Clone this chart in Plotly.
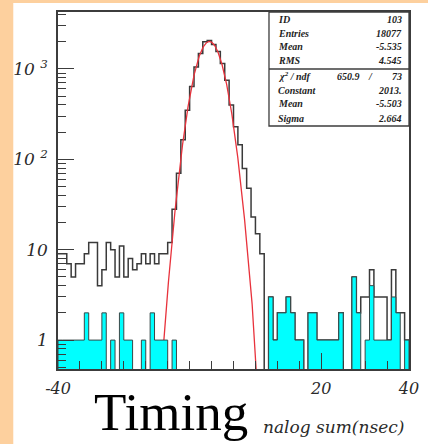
import numpy as np
import plotly.graph_objects as go

# ---------------- data ----------------
bin_lo, bin_hi, n_bins = -40, 40, 80
# total timing histogram (outline), 1 ns bins from -40 to 40
counts_total = [
    9, 9, 7, 5, 7, 7, 9, 12, 12, 4,
    6, 12, 10, 5, 11, 5, 8, 6, 7, 9,
    7, 9, 7, 9, 9, 12, 28, 70, 165, 350,
    640, 1050, 1480, 2000, 2060, 1860, 1560, 1150, 750, 400,
    230, 145, 79, 48, 23, 15, 9, 0, 3, 1,
    2, 2, 3, 2, 1, 1, 0, 2, 2, 1,
    1, 1, 1, 1, 2, 0, 0, 5, 2, 3,
    3, 6, 3, 3, 3, 1, 6, 2, 2, 1,
]
# selected sub-sample (cyan filled histogram)
counts_cyan = [
    1, 1, 1, 1, 1, 1, 2, 1, 1, 1,
    2, 0, 1, 0, 2, 1, 1, 0, 0, 1,
    0, 2, 1, 1, 1, 0, 1, 0, 0, 0,
    0, 0, 0, 0, 0, 0, 0, 0, 0, 0,
    0, 0, 0, 0, 0, 0, 0, 0, 3, 1,
    2, 2, 3, 2, 1, 1, 0, 2, 2, 1,
    1, 1, 1, 1, 2, 0, 0, 5, 2, 0,
    1, 4, 1, 1, 1, 1, 3, 2, 0, 1,
]
# gaussian fit parameters (from stats box)
fit_constant = 2013.0
fit_mean = -5.503
fit_sigma = 2.664

stats_top = [("ID", "103"), ("Entries", "18077"), ("Mean", "-5.535"), ("RMS", "4.545")]
chi2_val, ndf_val = "650.9", "73"
stats_fit = [("Constant", "2013."), ("Mean", "-5.503"), ("Sigma", "2.664")]

x_tickvals = [-40, -20, 0, 20, 40]
# -20 and 0 are hidden behind the "Timing" label in the reference
x_ticktext = ["-40", "", "", "20", "40"]
y_tickvals = [1, 10, 100, 1000]
y_ticktext = ["1", "10", "10 <sup>2</sup>", "10 <sup>3</sup>"]

# ---------------- layout geometry ----------------
W, H = 428, 444
L, R, T, B = 58, 9, 12, 75
PW, PH = W - L - R, H - T - B
def pxx(px):
    return (px - L) / PW
def pyy(py):
    return (H - B - py) / PH

FLOOR = 0.05  # below visible range, for empty bins on log axis
edges = np.linspace(bin_lo, bin_hi, n_bins + 1)

fig = go.Figure()

# black outline histogram
yb = [max(v, FLOOR) for v in counts_total]
fig.add_trace(go.Scatter(
    x=edges, y=yb + [yb[-1]], mode="lines",
    line=dict(shape="hv", color="#3a3a3a", width=1.5),
    hoverinfo="skip", showlegend=False))

# gaussian fit curve
xf = np.linspace(bin_lo, bin_hi, 1601)
yf = fit_constant * np.exp(-0.5 * ((xf - fit_mean) / fit_sigma) ** 2)
fig.add_trace(go.Scatter(
    x=xf, y=yf, mode="lines", line=dict(color="#e8323c", width=1.3),
    hoverinfo="skip", showlegend=False))

# cyan filled histogram
xs, ys = [bin_lo], [FLOOR]
for i, v in enumerate(counts_cyan):
    vv = max(v, FLOOR)
    xs += [edges[i], edges[i + 1]]
    ys += [vv, vv]
xs += [bin_hi]
ys += [FLOOR]
fig.add_trace(go.Scatter(
    x=xs, y=ys, mode="lines", fill="toself", fillcolor="#00ffff",
    line=dict(color="#3a4848", width=1),
    hoverinfo="skip", showlegend=False))

axis_col = "#3c3c3c"
tick_font = dict(family="DejaVu Serif", size=16, color="#2a2a2a")

fig.update_xaxes(
    range=[bin_lo, bin_hi], showgrid=False, zeroline=False,
    showline=True, linecolor=axis_col, linewidth=1.5, mirror=True,
    ticks="inside", ticklen=16, tickwidth=1.2, tickcolor=axis_col,
    tickmode="array", tickvals=x_tickvals,
    ticktext=["<i>%s</i>" % t if t else "" for t in x_ticktext],
    tickfont=tick_font, ticklabelstandoff=4,
    minor=dict(ticks="inside", ticklen=8, tickwidth=1.2, tickcolor=axis_col,
               tickmode="array", tickvals=list(range(-35, 40, 5)), showgrid=False),
)
fig.update_yaxes(
    type="log", range=[-0.32, 3.63], showgrid=False, zeroline=False,
    showline=True, linecolor=axis_col, linewidth=1.5, mirror=True,
    ticks="inside", ticklen=16, tickwidth=1.2, tickcolor=axis_col,
    tickmode="array", tickvals=y_tickvals,
    ticktext=["<i>%s</i>" % t for t in y_ticktext],
    tickfont=dict(family="DejaVu Serif", size=17, color="#2a2a2a"),
    ticklabelstandoff=5,
    minor=dict(ticks="inside", ticklen=8, tickwidth=1.2, tickcolor=axis_col,
               tickmode="array",
               tickvals=[m * 10 ** d for d in range(-1, 4) for m in range(2, 10)],
               showgrid=False),
)

shapes = [
    # white page area over peach background
    dict(type="rect", xref="paper", yref="paper", layer="below",
         x0=pxx(12), x1=pxx(440), y0=pyy(460), y1=pyy(3),
         fillcolor="white", line=dict(width=0)),
    # stats box
    dict(type="rect", xref="paper", yref="paper",
         x0=pxx(275), x1=1.0, y0=pyy(126), y1=1.0,
         fillcolor="white", line=dict(color=axis_col, width=1.3)),
    dict(type="line", xref="paper", yref="paper",
         x0=pxx(275), x1=1.0, y0=pyy(69), y1=pyy(69),
         line=dict(color=axis_col, width=1.6)),
]

ann = []
sfont = dict(family="Liberation Serif", size=10, color="#1e1e1e")
def stat(label, value, py):
    ann.append(dict(x=pxx(282), y=pyy(py), xref="paper", yref="paper",
                    text="<b><i>%s</i></b>" % label, showarrow=False,
                    xanchor="left", yanchor="middle", font=sfont))
    if value is not None:
        ann.append(dict(x=pxx(414), y=pyy(py), xref="paper", yref="paper",
                        text="<b><i>%s</i></b>" % value, showarrow=False,
                        xanchor="right", yanchor="middle", font=sfont))

for (lab, val), py in zip(stats_top, [19, 33, 47, 61]):
    stat(lab, val, py)
stat("χ<sup>2</sup> / ndf", None, 76)
ann.append(dict(x=pxx(371), y=pyy(76), xref="paper", yref="paper",
                text="<b><i>%s</i></b>" % chi2_val, showarrow=False,
                xanchor="right", yanchor="middle", font=sfont))
ann.append(dict(x=pxx(379), y=pyy(76), xref="paper", yref="paper",
                text="<b><i>/</i></b>", showarrow=False,
                xanchor="center", yanchor="middle", font=sfont))
ann.append(dict(x=pxx(414), y=pyy(76), xref="paper", yref="paper",
                text="<b><i>%s</i></b>" % ndf_val, showarrow=False,
                xanchor="right", yanchor="middle", font=sfont))
for (lab, val), py in zip(stats_fit, [90, 104, 118]):
    stat(lab, val, py)

# x axis title (its first letter is hidden behind "Timing" in the reference)
ann.append(dict(x=pxx(416), y=pyy(427), xref="paper", yref="paper",
                text="<i>nalog sum(nsec)</i>", showarrow=False,
                xanchor="right", yanchor="middle",
                font=dict(family="DejaVu Serif", size=17, color="#2a2a2a")))
# big overlay label
ann.append(dict(x=pxx(92), y=pyy(412), xref="paper", yref="paper",
                text="Timing", showarrow=False,
                xanchor="left", yanchor="middle", bgcolor="white", borderpad=2,
                font=dict(family="Liberation Serif", size=53, color="black")))

fig.update_layout(
    width=W, height=H, margin=dict(l=L, r=R, t=T, b=B),
    paper_bgcolor="#fdd09e", plot_bgcolor="white",
    shapes=shapes, annotations=ann, showlegend=False,
)

fig.write_html("out.html")
